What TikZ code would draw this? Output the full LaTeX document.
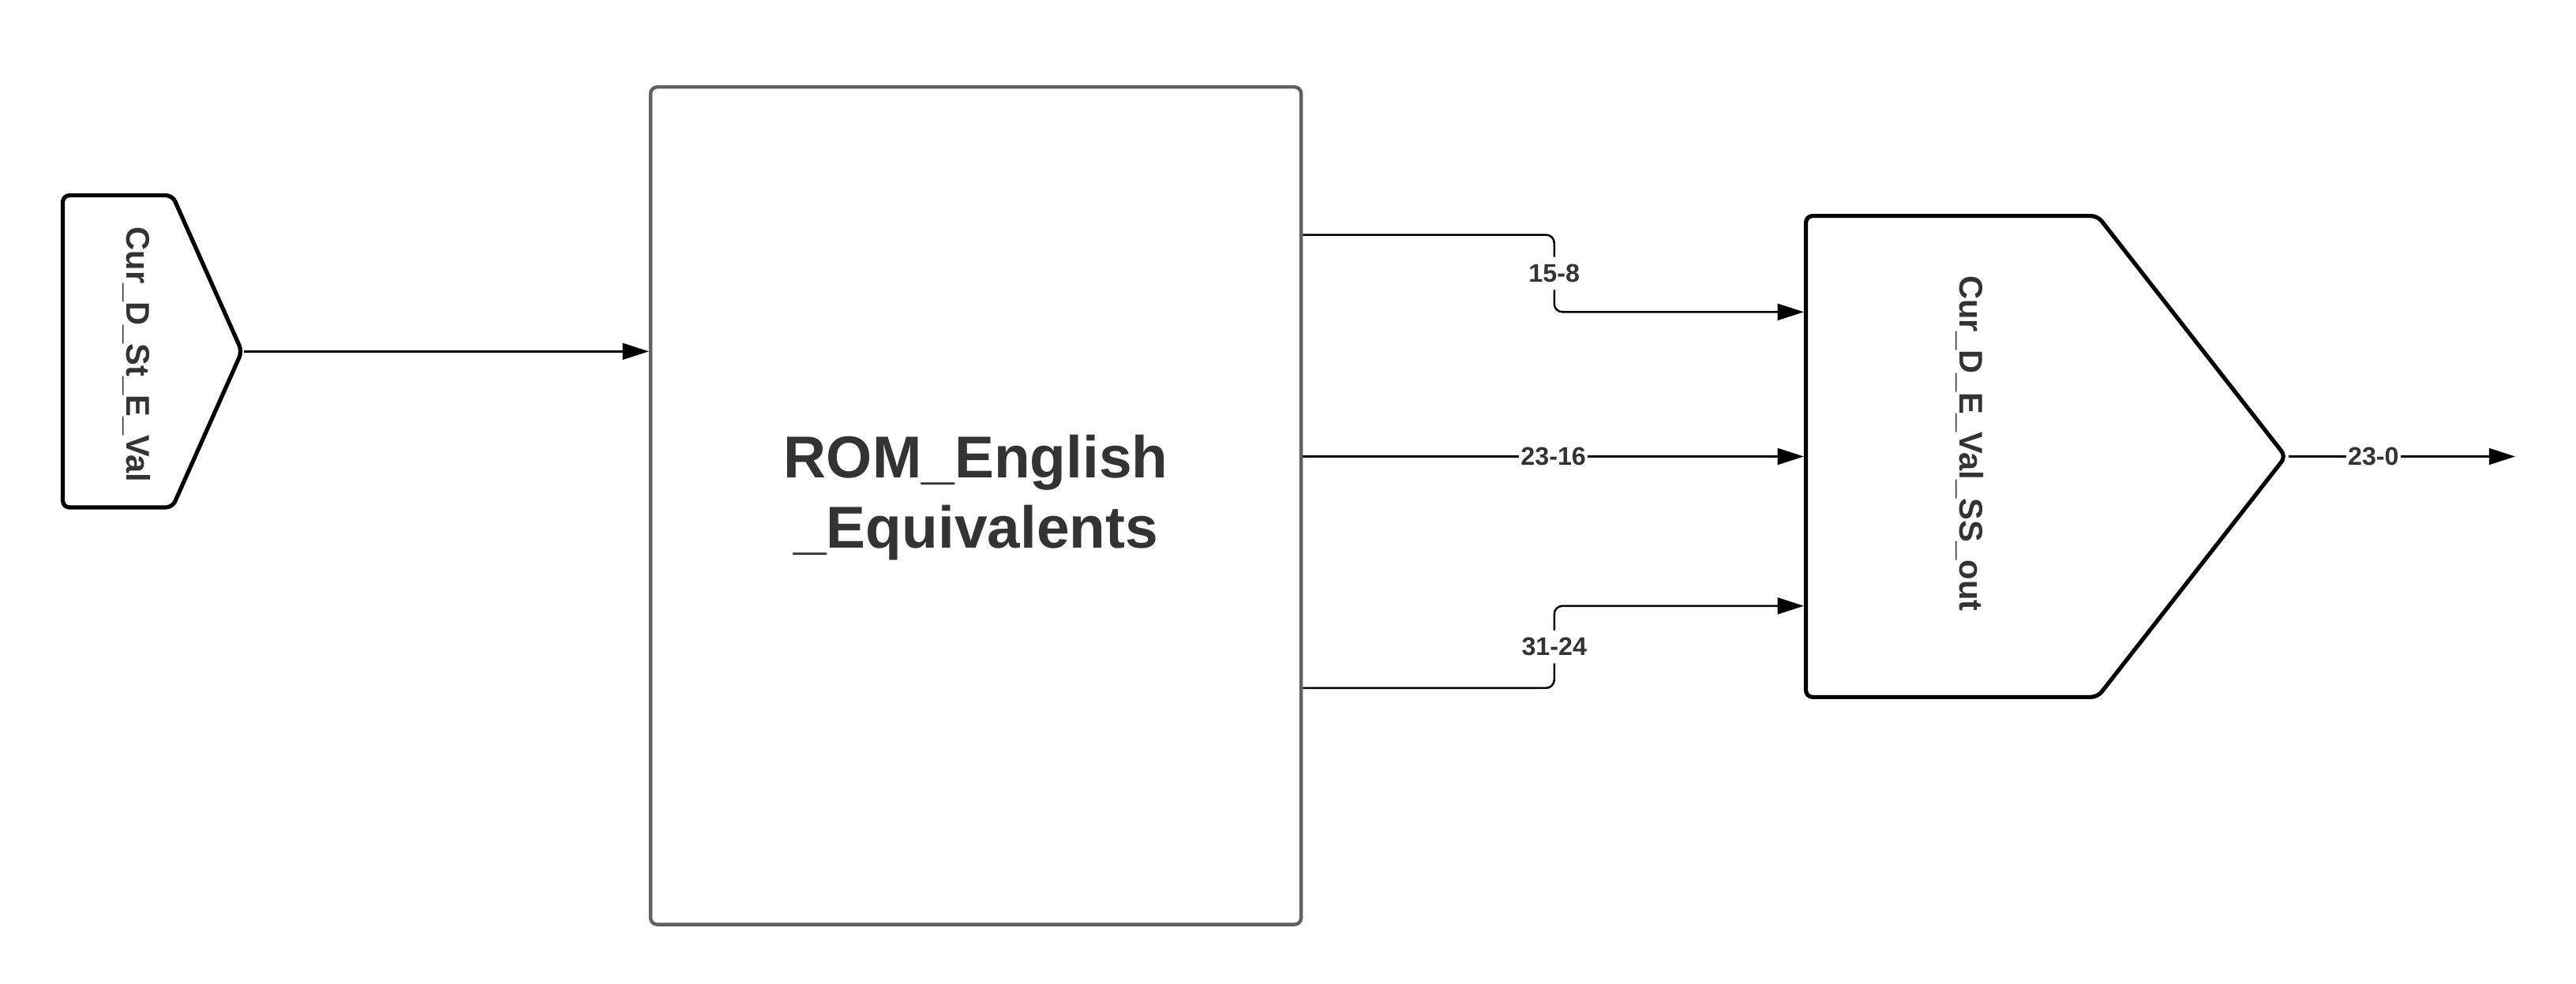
\documentclass[tikz,border=0pt]{standalone}
\usepackage{fontspec}
\setmainfont{Liberation Sans}
\usetikzlibrary{arrows.meta}
\usetikzlibrary{shapes.symbols}
\definecolor{txtgray}{HTML}{333333}
\definecolor{romgray}{HTML}{606060}

\begin{document}
\begin{tikzpicture}[->,>={Triangle[length=16pt,width=10pt]}, x=1pt, y=1pt, line width=1.2pt]
  \tikzstyle{every node}=[font=\bfseries, text=txtgray]
  \tikzstyle{port}=[signal, signal to=east, draw=black, line width=2.5pt, rounded corners=4pt, inner sep=0pt]
  \tikzstyle{portlabel}=[rotate=-90, font=\fontsize{20}{24}\selectfont\bfseries]
  \tikzstyle{bus}=[fill=white, inner xsep=1pt, inner ysep=4.5pt, font=\fontsize{15.5}{18}\selectfont\bfseries]
  \useasboundingbox (0,0) rectangle (1568,599);

  \node[port, minimum width=109pt, minimum height=190pt, signal pointer angle=132] (src) [anchor=west] at (37,385) {};
  \node[portlabel] (srclbl) at (83,383) {Cur\_D\_St\_E\_Val};

  \node[draw=romgray, line width=2.1pt, rounded corners=4pt, minimum width=396pt, minimum height=510pt] (rom) at (594,291) {};
  \node[align=center, font=\fontsize{36}{43}\selectfont\bfseries] (romlbl) at ([yshift=5pt]rom.center) {ROM\_English\\\_Equivalents};

  \node[port, minimum width=292pt, minimum height=293pt, signal pointer angle=104] (dst) [anchor=west] at (1098,321) {};
  \node[portlabel] (dstlbl) at (1199,329) {Cur\_D\_E\_Val\_SS\_out};

  \coordinate (out) at (1531,321);

  \draw (src.east) -- (src.east -| rom.west);
  \draw[rounded corners=5pt] ([yshift=165pt]rom.east) -- ++(153,0) -- node[bus] {15-8} ++(0,-47) -- ([yshift=88pt]dst.west);
  \draw (rom.east |- dst.west) -- node[bus] {23-16} (dst.west);
  \draw[rounded corners=5pt] ([yshift=-111pt]rom.east) -- ++(153,0) -- node[bus] {31-24} ++(0,50) -- ([yshift=-91pt]dst.west);
  \draw (dst.east) -- node[bus, pos=0.375] {23-0} (out);
\end{tikzpicture}
\end{document}
